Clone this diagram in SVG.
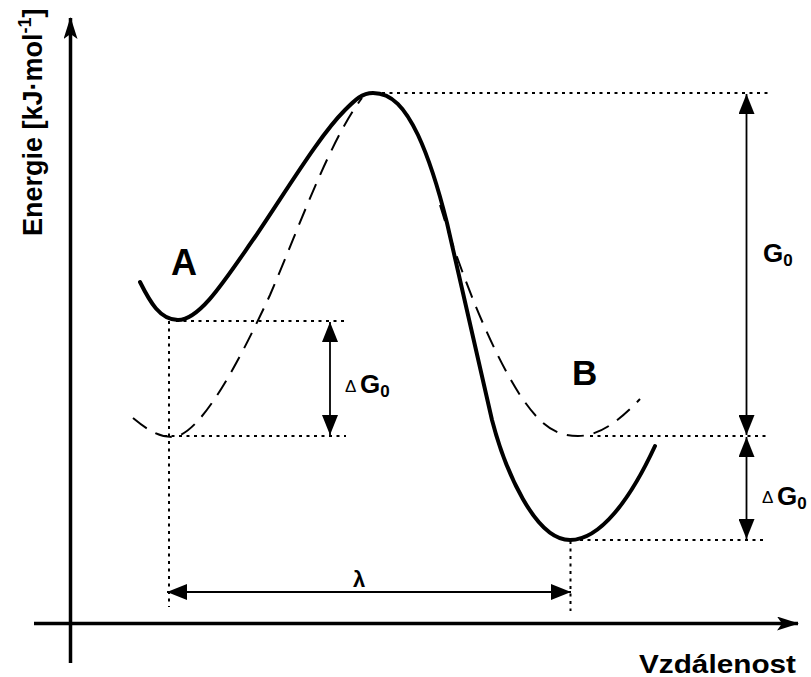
<svg xmlns="http://www.w3.org/2000/svg" width="811" height="677" viewBox="0 0 811 677">
<style>
.axis{stroke:#000;stroke-width:3.5;fill:none}
.solid{stroke:#000;stroke-width:4;fill:none;stroke-linecap:round;stroke-linejoin:round}
.dash{stroke:#000;stroke-width:2;fill:none;stroke-dasharray:17 10}
.dot{stroke:#000;stroke-width:2;fill:none;stroke-dasharray:3 4.5}
.dim{stroke:#000;stroke-width:1.8;fill:none}
.lbl{font-family:"Liberation Sans",Arial,sans-serif;font-weight:bold;fill:#000}
.tri{font-family:"Liberation Sans",Arial,sans-serif;font-weight:normal;fill:#000}
</style>
<defs>
<marker id="ah" viewBox="0 0 20 16" refX="20" refY="8" markerWidth="20" markerHeight="16" markerUnits="userSpaceOnUse" orient="auto-start-reverse">
<path d="M0,0 L20,8 L0,16 Z" fill="#000"/>
</marker>
<marker id="axh" viewBox="0 0 22 14" refX="21" refY="7" markerWidth="22" markerHeight="14" markerUnits="userSpaceOnUse" orient="auto">
<path d="M0,0 L22,7 L0,14 L5,7 Z" fill="#000"/>
</marker>
</defs>

<g id="axes">
<line class="axis" x1="70.5" y1="663" x2="70.5" y2="18" marker-end="url(#axh)"/>
<line class="axis" x1="34" y1="623.5" x2="798" y2="623.5" marker-end="url(#axh)"/>
<text class="lbl" font-size="27" transform="translate(42,236) rotate(-90)">Energie [kJ·mol<tspan font-size="18" dy="-11">-1</tspan><tspan dy="11">]</tspan></text>
<text class="lbl" font-size="25" x="639" y="673" textLength="157" lengthAdjust="spacingAndGlyphs">Vzdálenost</text>
</g>

<g id="curves">
<path id="dashA" class="dash" d="M133,418 C150,432 160,437 172,437 C200,437 240,360 270,295 C300,225 330,140 362,98"/>
<path id="dashB" class="dash" d="M440,205 C458,265 488,345 520,395 C540,425 555,436 578,436 C600,436 620,420 640,399"/>
<path id="solid" class="solid" d="M140,282 C150,302 160,320 178,320 C200,320 225,280 255,237 C290,185 320,135 345,110 C355,100 362,93 373,93 C392,93 405,108 418,135 C432,165 440,195 447,223 L492,420 C505,470 535,540 570,540 C600,540 630,500 655,446"/>
</g>

<g id="labels">
<text id="A" class="lbl" font-size="36" x="171" y="275">A</text>
<text id="B" class="lbl" font-size="35" x="572" y="385">B</text>
</g>

<g id="guides">
<line class="dot" x1="176" y1="321" x2="346" y2="321"/>
<line class="dot" x1="164" y1="436" x2="346" y2="436"/>
<line class="dot" x1="169" y1="321" x2="169" y2="607"/>
<line class="dot" x1="570.5" y1="541" x2="570.5" y2="611"/>
<line class="dot" x1="382" y1="93" x2="772" y2="93"/>
<line class="dot" x1="590" y1="436" x2="766" y2="436"/>
<line class="dot" x1="580" y1="540" x2="766" y2="540"/>
</g>

<g id="connectors">
<line class="dim" x1="330" y1="322" x2="330" y2="435" marker-start="url(#ah)" marker-end="url(#ah)"/>
<line class="dim" x1="746.5" y1="94" x2="746.5" y2="435" marker-start="url(#ah)" marker-end="url(#ah)"/>
<line class="dim" x1="746.5" y1="437" x2="746.5" y2="539" marker-start="url(#ah)" marker-end="url(#ah)"/>
<line class="dim" x1="167" y1="592" x2="571" y2="592" marker-start="url(#ah)" marker-end="url(#ah)"/>
</g>

<g id="dimlabels">
<text class="tri" font-size="17" x="345" y="392">Δ</text>
<text class="lbl" font-size="26" x="360" y="393">G<tspan font-size="17" dy="4">0</tspan></text>
<text class="lbl" font-size="26" x="763" y="262">G<tspan font-size="17" dy="4">0</tspan></text>
<text class="tri" font-size="17" x="762" y="503">Δ</text>
<text class="lbl" font-size="26" x="777" y="505">G<tspan font-size="17" dy="4">0</tspan></text>
<text class="lbl" font-size="22" x="359" y="587" text-anchor="middle">λ</text>
</g>
</svg>
